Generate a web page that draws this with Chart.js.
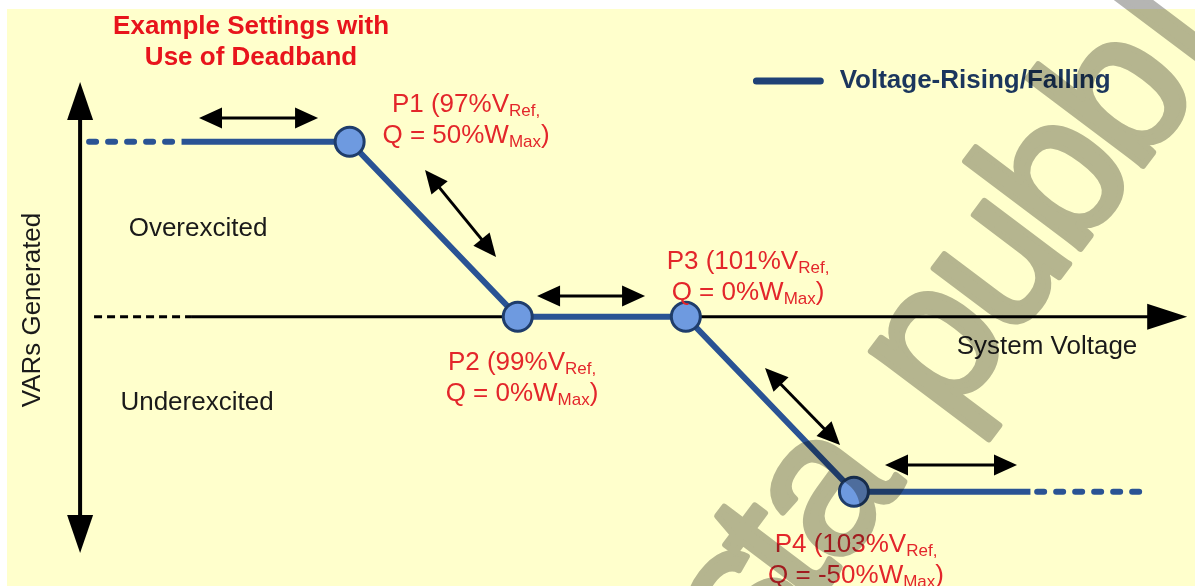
<!DOCTYPE html>
<html>
<head>
<meta charset="utf-8">
<script src="https://cdn.jsdelivr.net/npm/chart.js@4.4.1/dist/chart.umd.min.js"></script>
<style>
html, body { margin: 0; padding: 0; background: #fff; overflow: hidden; }
#wrap { width: 1195px; height: 586px; }
</style>
</head>
<body>
<div id="wrap"><canvas id="c" width="1195" height="586"></canvas></div>
<script>
// volt-var settings: P1..P4 (% of VRef, % of WMax)
const pointNames = ['P1', 'P2', 'P3', 'P4'];
const voltagePct = [97, 99, 101, 103];
const varsPct = [50, 0, 0, -50];
// curve continues flat past P1 / P4: solid up to these voltages, then dashed
const solidEnds = [95, 105.1];
const dashedEnds = [93.9, 106.4];
const seriesLabel = 'Voltage-Rising/Falling';

const LINE = '#2a5394';
const RED = '#e3262b';
const FONT = '"Liberation Sans", Arial, sans-serif';

const mainData = [{ x: solidEnds[0], y: varsPct[0] }]
    .concat(voltagePct.map((v, i) => ({ x: v, y: varsPct[i] })))
    .concat([{ x: solidEnds[1], y: varsPct[varsPct.length - 1] }]);
const radii = mainData.map((p, i) => (i === 0 || i === mainData.length - 1) ? 0 : 14.5);

function arrowHead(ctx, x1, y1, x2, y2, len, half) {
    const a = Math.atan2(y2 - y1, x2 - x1), c = Math.cos(a), s = Math.sin(a);
    ctx.beginPath();
    ctx.moveTo(x2, y2);
    ctx.lineTo(x2 - len * c + half * s, y2 - len * s - half * c);
    ctx.lineTo(x2 - len * c - half * s, y2 - len * s + half * c);
    ctx.closePath();
    ctx.fill();
}

function doubleArrow(ctx, x1, y1, x2, y2) {
    const a = Math.atan2(y2 - y1, x2 - x1), c = Math.cos(a), s = Math.sin(a);
    ctx.lineWidth = 3;
    ctx.beginPath();
    ctx.moveTo(x1 + c * 15, y1 + s * 15);
    ctx.lineTo(x2 - c * 15, y2 - s * 15);
    ctx.stroke();
    arrowHead(ctx, x1, y1, x2, y2, 23, 10.5);
    arrowHead(ctx, x2, y2, x1, y1, 23, 10.5);
}

// text with subscripts, centred on cx, vertical middle cy
function richLine(ctx, parts, cx, cy) {
    let w = 0;
    parts.forEach(p => {
        ctx.font = (p[1] ? '17px ' : '26px ') + FONT;
        w += ctx.measureText(p[0]).width;
    });
    let x = cx - w / 2;
    ctx.textAlign = 'left';
    ctx.textBaseline = 'alphabetic';
    parts.forEach(p => {
        ctx.font = (p[1] ? '17px ' : '26px ') + FONT;
        ctx.fillText(p[0], x, cy + 9 + (p[1] ? 4 : 0));
        x += ctx.measureText(p[0]).width;
    });
}

// label anchors in data units (centre x, middle of first line)
const labelAt = [[98.385, 61.06], [99.051, -12.66], [101.74, 16.2], [103.025, -64.66]];

// watermark letters and their spacing along the slanted baseline
const wmText = 'sta pubbl';
const wmStep = [-140, -78, 0, 0, 182, 286, 390, 494, 578];

const diagram = {
    id: 'diagram',
    beforeDraw(chart) {
        const ctx = chart.ctx;
        ctx.save();
        ctx.fillStyle = '#fff';
        ctx.fillRect(0, 0, chart.width, chart.height);
        ctx.fillStyle = '#ffffcc';
        ctx.fillRect(7, 9, chart.width - 7, chart.height - 9);
        ctx.restore();
    },
    beforeDatasetsDraw(chart) {
        const ctx = chart.ctx, X = v => chart.scales.x.getPixelForValue(v), Y = q => chart.scales.y.getPixelForValue(q);
        ctx.save();
        ctx.strokeStyle = '#000';
        ctx.fillStyle = '#000';
        // y axis, arrows both ends
        const ax = X(93.793);
        ctx.lineWidth = 4;
        ctx.beginPath();
        ctx.moveTo(ax, Y(67.06) + 30);
        ctx.lineTo(ax, Y(-67.54) - 30);
        ctx.stroke();
        arrowHead(ctx, ax, Y(0), ax, Y(67.06), 38, 13);
        arrowHead(ctx, ax, Y(0), ax, Y(-67.54), 38, 13);
        // x axis: dashed start, solid, arrow
        const ay = Y(0);
        ctx.lineWidth = 3;
        ctx.setLineDash([8, 5]);
        ctx.beginPath();
        ctx.moveTo(X(93.959), ay);
        ctx.lineTo(X(95.113), ay);
        ctx.stroke();
        ctx.setLineDash([]);
        ctx.beginPath();
        ctx.moveTo(X(95.113), ay);
        ctx.lineTo(X(106.965) - 30, ay);
        ctx.stroke();
        arrowHead(ctx, X(95), ay, X(106.965), ay, 40, 13);
        ctx.restore();
    },
    afterDatasetsDraw(chart) {
        const ctx = chart.ctx, X = v => chart.scales.x.getPixelForValue(v), Y = q => chart.scales.y.getPixelForValue(q);
        ctx.save();
        ctx.strokeStyle = '#000';
        ctx.fillStyle = '#000';
        [[95.208, 56.77, 96.624, 56.77],
         [97.897, 41.91, 98.742, 17.06],
         [99.230, 5.91, 100.515, 5.91],
         [101.942, -14.66, 102.835, -36.66],
         [103.370, -42.37, 104.940, -42.37]].forEach(a => doubleArrow(ctx, X(a[0]), Y(a[1]), X(a[2]), Y(a[3])));

        // title
        ctx.fillStyle = '#e8141c';
        ctx.font = 'bold 26px ' + FONT;
        ctx.textAlign = 'center';
        ctx.textBaseline = 'middle';
        ctx.fillText('Example Settings with', X(95.827), Y(82.77));
        ctx.fillText('Use of Deadband', X(95.827), Y(73.91));

        // legend
        ctx.strokeStyle = '#1f4276';
        ctx.lineWidth = 7;
        ctx.lineCap = 'round';
        ctx.beginPath();
        ctx.moveTo(X(101.84), Y(67.34));
        ctx.lineTo(X(102.60), Y(67.34));
        ctx.stroke();
        ctx.fillStyle = '#1b365d';
        ctx.font = 'bold 26px ' + FONT;
        ctx.textAlign = 'left';
        ctx.fillText(seriesLabel, X(102.83), Y(67.34));

        // region / axis labels
        ctx.fillStyle = '#1a1a1a';
        ctx.font = '26px ' + FONT;
        ctx.textAlign = 'center';
        ctx.fillText('Overexcited', X(95.196), Y(25.06));
        ctx.fillText('Underexcited', X(95.184), Y(-24.66));
        ctx.fillText('System Voltage', X(105.297), Y(-8.66));
        ctx.save();
        ctx.translate(X(93.235), Y(1.91));
        ctx.rotate(-Math.PI / 2);
        ctx.fillText('VARs Generated', 0, 0);
        ctx.restore();

        // point labels
        ctx.fillStyle = RED;
        pointNames.forEach((n, i) => {
            const cx = X(labelAt[i][0]), cy = Y(labelAt[i][1]);
            richLine(ctx, [[n + ' (' + voltagePct[i] + '%V', false], ['Ref,', true]], cx, cy);
            richLine(ctx, [['Q = ' + varsPct[i] + '%W', false], ['Max', true], [')', false]], cx, cy + 31);
        });
        ctx.restore();
    },
    afterDraw(chart) {
        // watermark, multiplied over the drawing
        const off = document.createElement('canvas');
        off.width = chart.width;
        off.height = chart.height;
        const o = off.getContext('2d');
        const size = 200;
        o.translate(830, 495);
        o.rotate(-53 * Math.PI / 180);
        o.font = size + 'px ' + FONT;
        o.textAlign = 'center';
        o.textBaseline = 'alphabetic';
        o.lineJoin = 'round';
        o.lineWidth = 6;
        o.fillStyle = '#b5b5b3';
        o.strokeStyle = '#b5b5b3';
        wmText.split('').forEach((ch, i) => {
            if (ch === ' ') return;
            o.fillText(ch, wmStep[i], size * 0.26);
            o.strokeText(ch, wmStep[i], size * 0.26);
        });
        const ctx = chart.ctx;
        ctx.save();
        ctx.globalCompositeOperation = 'multiply';
        ctx.drawImage(off, 0, 0);
        ctx.restore();
    }
};

new Chart(document.getElementById('c'), {
    type: 'line',
    data: {
        datasets: [{
            label: seriesLabel,
            data: mainData,
            borderColor: LINE,
            borderWidth: 6,
            pointRadius: radii,
            pointBackgroundColor: '#6e9ae0',
            pointBorderColor: '#1f3d6b',
            pointBorderWidth: 3,
            tension: 0,
            order: 0
        }, {
            data: [{ x: dashedEnds[0], y: varsPct[0] }, { x: solidEnds[0] - 0.08, y: varsPct[0] }],
            borderColor: LINE,
            borderWidth: 6,
            borderDash: [7, 12],
            borderCapStyle: 'round',
            pointRadius: 0,
            order: 1
        }, {
            data: [{ x: solidEnds[1] + 0.08, y: varsPct[3] }, { x: dashedEnds[1], y: varsPct[3] }],
            borderColor: LINE,
            borderWidth: 6,
            borderDash: [7, 12],
            borderCapStyle: 'round',
            pointRadius: 0,
            order: 1
        }]
    },
    options: {
        responsive: false,
        devicePixelRatio: 1,
        animation: false,
        layout: { padding: 0 },
        plugins: { legend: { display: false }, tooltip: { enabled: false }, title: { display: false } },
        scales: {
            x: { type: 'linear', display: false, min: 92.84, max: 107.058 },
            y: { type: 'linear', display: false, min: -76.94, max: 90.49 }
        }
    },
    plugins: [diagram]
});
</script>
</body>
</html>
